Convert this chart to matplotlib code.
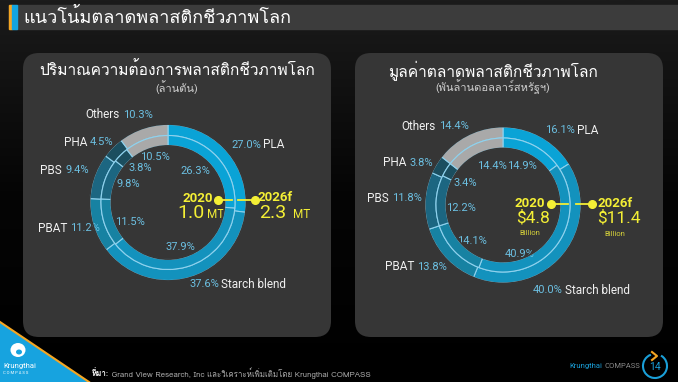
import numpy as np
import matplotlib
matplotlib.use("Agg")
import matplotlib.pyplot as plt
from matplotlib import font_manager as fm
from matplotlib.ft2font import FT2Font
from matplotlib.patches import FancyBboxPatch, Rectangle, Polygon, Circle, Arc, Ellipse

# ---------------- data ----------------
segments = ["PLA", "Starch blend", "PBAT", "PBS", "PHA", "Others"]
volume_2020 = [26.3, 37.9, 11.5, 9.8, 3.8, 10.5]
volume_2026 = [27.0, 37.6, 11.2, 9.4, 4.5, 10.3]
value_2020 = [14.9, 40.9, 14.1, 12.2, 3.4, 14.4]
value_2026 = [16.1, 40.0, 13.8, 11.8, 3.8, 14.4]
total_labels_left = ["2020", "1.0", "2026f", "2.3"]
total_labels_right = ["2020", "$4.8", "2026f", "$11.4"]

title_main = "แนวโน้มตลาดพลาสติกชีวภาพโลก"
title_left = "ปริมาณความต้องการพลาสติกชีวภาพโลก"
sub_left = "(ล้านตัน)"
title_right = "มูลค่าตลาดพลาสติกชีวภาพโลก"
sub_right = "(พันล้านดอลลาร์สหรัฐฯ)"
source_head = "ที่มา:"
source_body = " Grand View Research, Inc และวิเคราะห์เพิ่มเติมโดย Krungthai COMPASS"

# ---------------- fonts ----------------
thai_names = []
for f in fm.fontManager.ttflist:
    if f.name in thai_names:
        continue
    try:
        ft = FT2Font(f.fname)
        if 0x0E01 in ft.get_charmap():
            thai_names.append(f.name)
    except Exception:
        pass
THAI = "Loma" if "Loma" in thai_names else (thai_names[0] if thai_names else "DejaVu Sans")
TFAM = [THAI, "DejaVu Sans"]
LFAM = ["Roboto", "DejaVu Sans"]

# ---------------- figure ----------------
W, H = 678, 382
fig = plt.figure(figsize=(W / 100, H / 100), dpi=100)
ax = fig.add_axes([0, 0, 1, 1])

colors = ["#0aa3d6", "#1392bd", "#1782a2", "#1c6681", "#1b4e5f", "#a9a9a9"]
sep_col = "#8fd2ee"
panel_col = "#363636"
PCT = "#6cc0e2"
YEL = "#f4ef35"

R_OUT, R_SEP, R_HOLE = 78, 67, 57

def donut(center, inner_vals, outer_vals):
    for vals, r, w in ((outer_vals, R_OUT, R_OUT - R_SEP), (inner_vals, R_SEP, R_SEP - R_HOLE)):
        ax.pie(vals, colors=colors, center=center, radius=r, startangle=-90,
               counterclock=True, normalize=True,
               wedgeprops=dict(width=w, edgecolor=sep_col, linewidth=0.8))
    ax.add_patch(Circle(center, R_OUT + 0.4, fill=False, edgecolor=panel_col, lw=1.2, zorder=5))
    ax.add_patch(Circle(center, R_HOLE - 0.4, fill=False, edgecolor=panel_col, lw=1.2, zorder=5))

cL = (168, 202.5)
cR = (503, 205)
donut(cL, volume_2020, volume_2026)
donut(cR, value_2020, value_2026)

ax.set_xlim(0, W)
ax.set_ylim(H, 0)
ax.set_aspect("auto")
ax.axis("off")

# background gradient
grad = np.linspace(0, 1, 256).reshape(-1, 1)
ax.imshow(grad, extent=(0, W, H, 0), cmap=matplotlib.colors.LinearSegmentedColormap.from_list(
    "bg", ["#1b1b1b", "#050505", "#000000"]), aspect="auto", zorder=-10)

# title bar
ax.add_patch(Rectangle((9, 5), W - 9, 24, color="#3c3c3c", zorder=-5))
ax.add_patch(Rectangle((9, 5), 2.5, 24, color="#f5a623", zorder=-4))
ax.add_patch(Rectangle((11.5, 5), 5.5, 24, color="#13a5e0", zorder=-4))
ax.text(23, 17.5, title_main, family=TFAM, fontsize=13, color="white", va="center", ha="left")

# panels
for x0 in (23, 355):
    ax.add_patch(FancyBboxPatch((x0, 53), 308, 284,
                                boxstyle="round,pad=0,rounding_size=16",
                                facecolor=panel_col, edgecolor="none", zorder=-3))

ax.text(177, 70, title_left, family=TFAM, fontsize=11.2, color="white", ha="center", va="center")
ax.text(177, 87, sub_left, family=TFAM, fontsize=8, color="#cfcfcf", ha="center", va="center")
ax.text(493, 71, title_right, family=TFAM, fontsize=11.2, color="white", ha="center", va="center")
ax.text(493, 87, sub_right, family=TFAM, fontsize=8, color="#cfcfcf", ha="center", va="center")

FS_N = 8.5
FS_P = 8.0
def outer_label(name, pct, x, y, name_first):
    if name_first:
        ax.text(x, y, name, family=LFAM, fontsize=FS_N, color="#f0f0f0", ha="right", va="center")
        ax.text(x + 3, y, pct, family=LFAM, fontsize=FS_P, color=PCT, ha="left", va="center")
    else:
        ax.text(x, y, pct, family=LFAM, fontsize=FS_P, color=PCT, ha="right", va="center")
        ax.text(x + 2, y, name, family=LFAM, fontsize=FS_N, color="#f0f0f0", ha="left", va="center")

left_outer_pos = {"PLA": (261, 145, False), "Starch blend": (219, 284, False),
                  "PBAT": (67, 228, True), "PBS": (62, 170, True),
                  "PHA": (87, 142, True), "Others": (120, 115, True)}
right_outer_pos = {"PLA": (575, 130, False), "Starch blend": (563, 290, False),
                   "PBAT": (414, 267, True), "PBS": (389, 198, True),
                   "PHA": (406, 163, True), "Others": (436, 126, True)}
left_inner_pos = {"PLA": (195, 171), "Starch blend": (180, 247), "PBAT": (130, 222),
                  "PBS": (128, 184), "PHA": (140, 168), "Others": (155, 157)}
right_inner_pos = {"PLA": (522, 166), "Starch blend": (520, 254), "PBAT": (472, 241),
                   "PBS": (461, 208), "PHA": (465, 183), "Others": (492, 166)}

for i, s in enumerate(segments):
    x, y, nf = left_outer_pos[s]
    outer_label(s, f"{volume_2026[i]:.1f}%", x, y, nf)
    x, y, nf = right_outer_pos[s]
    outer_label(s, f"{value_2026[i]:.1f}%", x, y, nf)
    x, y = left_inner_pos[s]
    ax.text(x, y, f"{volume_2020[i]:.1f}%", family=LFAM, fontsize=FS_P, color=PCT, ha="center", va="center")
    x, y = right_inner_pos[s]
    ax.text(x, y, f"{value_2020[i]:.1f}%", family=LFAM, fontsize=FS_P, color=PCT, ha="center", va="center")

# connectors
def connector(y, xa, xb, gap0, gap1):
    ax.plot([xa, gap0], [y, y], color=YEL, lw=1.3, zorder=6)
    ax.plot([gap1, xb], [y, y], color=YEL, lw=1.3, zorder=6)
    ax.plot([xa, xb], [y, y], "o", color=YEL, ms=5.5, zorder=7)

connector(200, 218, 255, 232, 238)
connector(204, 551, 592, 568, 576)

# left totals
ax.text(213, 198.5, total_labels_left[0], family=LFAM, fontsize=9.5, weight="bold", color=YEL, ha="right", va="center")
ax.text(205, 218, total_labels_left[1], family=LFAM, fontsize=14, color=YEL, ha="right", va="baseline")
ax.text(207, 218, "MT", family=LFAM, fontsize=8.5, color=YEL, ha="left", va="baseline")
ax.text(257, 197.5, total_labels_left[2], family=LFAM, fontsize=9.5, weight="bold", color=YEL, ha="left", va="center")
ax.text(259, 218, total_labels_left[3], family=LFAM, fontsize=14, color=YEL, ha="left", va="baseline")
ax.text(293, 218, "MT", family=LFAM, fontsize=8.5, color=YEL, ha="left", va="baseline")

# right totals
ax.text(545, 203.5, total_labels_right[0], family=LFAM, fontsize=9.5, weight="bold", color=YEL, ha="right", va="center")
ax.text(516, 222, total_labels_right[1], family=LFAM, fontsize=12.5, color=YEL, ha="left", va="baseline")
ax.text(530, 233, "Billion", family=LFAM, fontsize=5.5, color="#d6d23a", ha="center", va="center")
ax.text(597, 203.5, total_labels_right[2], family=LFAM, fontsize=9.5, weight="bold", color=YEL, ha="left", va="center")
ax.text(597, 223, total_labels_right[3], family=LFAM, fontsize=12.5, color=YEL, ha="left", va="baseline")
ax.text(615, 234, "Billion", family=LFAM, fontsize=5.5, color="#d6d23a", ha="center", va="center")

# bottom-left logo triangle
ax.add_patch(Polygon([(0, 322), (89, 382), (0, 382)], closed=True, facecolor="#17a3df", edgecolor="none", zorder=2))
ax.plot([0, 89], [322, 382], color="#f5a623", lw=1.5, zorder=3)
ax.add_patch(Ellipse((18, 350), 15, 14, facecolor="white", edgecolor="none", zorder=3))
ax.add_patch(Ellipse((19, 352), 6, 5, facecolor="#17a3df", edgecolor="none", zorder=4))
ax.text(3, 366, "Krungthai", family=LFAM, fontsize=5.5, color="white", ha="left", va="center", zorder=4)
ax.text(3, 372.5, "C O M P A S S", family=LFAM, fontsize=3.0, color="white", ha="left", va="center", zorder=4)

# footer source
t = ax.text(92, 373, source_head, family=TFAM, fontsize=5.7, weight="bold", color="white", ha="left", va="center")
fig.canvas.draw()
bb = t.get_window_extent().transformed(ax.transData.inverted())
ax.text(bb.x1, 373, source_body, family=TFAM, fontsize=5.7, color="#a8a8a8", ha="left", va="center")

# footer right
t2 = ax.text(640, 366, "COMPASS", family=LFAM, fontsize=5.5, color="#8a8a8a", ha="right", va="center")
fig.canvas.draw()
bb2 = t2.get_window_extent().transformed(ax.transData.inverted())
ax.text(bb2.x0 - 2, 366, "Krungthai", family=LFAM, fontsize=5.5, color="#1a9fd8", ha="right", va="center")
ax.add_patch(Arc((655, 366), 24, 24, theta1=-60, theta2=250, color="#1a9fd8", lw=1.5))
ax.plot([652, 657, 652], [352, 356, 360], color="#f5a623", lw=1.5)
ax.text(655, 366.5, "14", family=LFAM, fontsize=7.5, color="#1a9fd8", ha="center", va="center")

fig.savefig("out.png", dpi=100, facecolor="black")
